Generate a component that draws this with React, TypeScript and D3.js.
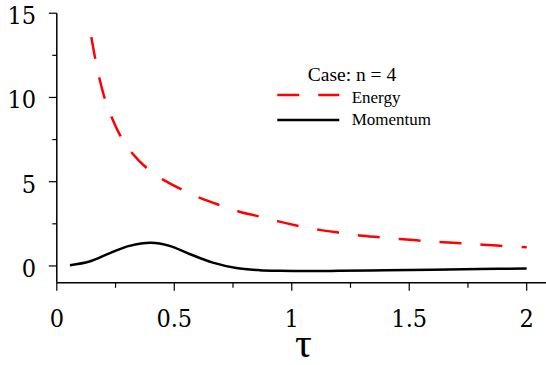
import React from 'react'
import * as d3 from 'd3'

// values
const energyTau = [0.147, 0.164, 0.181, 0.205, 0.234, 0.274, 0.321, 0.387, 0.454, 0.536, 0.612, 0.700, 0.778, 0.863, 0.948, 1.034, 1.119, 1.204, 1.289, 1.374, 1.474, 1.559, 1.644, 1.730, 1.815, 1.908, 2.0]
const energy = [13.58, 12.27, 11.15, 9.90, 8.81, 7.64, 6.69, 5.76, 5.11, 4.51, 4.02, 3.58, 3.22, 2.93, 2.63, 2.36, 2.14, 1.97, 1.81, 1.70, 1.58, 1.49, 1.41, 1.34, 1.26, 1.18, 1.11]

const momentumTau = [0.056, 0.139, 0.224, 0.309, 0.401, 0.480, 0.565, 0.664, 0.764, 0.863, 0.95, 1.034, 1.2, 1.4, 1.6, 1.8, 2.0]
const momentum = [0.04, 0.26, 0.75, 1.19, 1.38, 1.19, 0.71, 0.20, -0.12, -0.25, -0.29, -0.30, -0.29, -0.26, -0.22, -0.18, -0.15]

const xMajor = [0, 0.5, 1, 1.5, 2]
const xMinor = [0.25, 0.75, 1.25, 1.75]
const yMajor = [0, 5, 10, 15]
const yMinor = [2.5, 7.5, 12.5]

const legendTitle = 'Case: n = 4'
const seriesNames = ['Energy', 'Momentum']

const width = 546
const height = 365
const font = 'Liberation Serif, Times New Roman, serif'
// the digits need a face that surely has serifs
const tickFont = 'DejaVu Serif Condensed, DejaVu Serif, serif'

export default function App() {
  const x = d3.scaleLinear().domain([0, 2]).range([56.8, 526.7])
  const y = d3.scaleLinear().domain([-1, 15]).range([282.8, 13.2])
  const x0 = x(0)
  const xEnd = width

  const line = d3.line<[number, number]>()
    .x(d => x(d[0]))
    .y(d => y(d[1]))
    .curve(d3.curveCatmullRom.alpha(0.5))

  const energyPts = energyTau.map((t, i) => [t, energy[i]] as [number, number])
  const momentumPts = momentumTau.map((t, i) => [t, momentum[i]] as [number, number])

  return (
    <svg width={width} height={height} style={{ position: 'absolute', left: 0, top: 0, background: '#fff' }}>
      {/* axes */}
      <line x1={x0} x2={x0} y1={y(15)} y2={y(-1)} stroke="#000" strokeWidth={1.5} />
      <line x1={x0} x2={xEnd} y1={y(-1)} y2={y(-1)} stroke="#000" strokeWidth={1.5} />

      {yMajor.map(v => (
        <g key={'ym' + v}>
          <line x1={x0 - 8} x2={x0} y1={y(v)} y2={y(v)} stroke="#000" strokeWidth={1.2} />
          <text x={36} y={y(v) + 11} textAnchor="end" fontFamily={tickFont} fontWeight={300} fontSize={25}>{v}</text>
        </g>
      ))}
      {yMinor.map(v => (
        <line key={'yn' + v} x1={x0 - 4.5} x2={x0} y1={y(v)} y2={y(v)} stroke="#000" strokeWidth={1.2} />
      ))}

      {xMajor.map(v => (
        <g key={'xm' + v}>
          <line x1={x(v)} x2={x(v)} y1={y(-1)} y2={y(-1) + 8} stroke="#000" strokeWidth={1.2} />
          <text x={x(v)} y={327} textAnchor="middle" fontFamily={tickFont} fontWeight={300} fontSize={25}>{v}</text>
        </g>
      ))}
      {xMinor.map(v => (
        <line key={'xn' + v} x1={x(v)} x2={x(v)} y1={y(-1)} y2={y(-1) + 5} stroke="#000" strokeWidth={1.2} />
      ))}

      <text x={303.5} y={357} textAnchor="middle" fontFamily={font} fontSize={42}>τ</text>

      {/* series */}
      <path d={line(energyPts) || ''} fill="none" stroke="#ff0000" strokeWidth={2.5} strokeDasharray="22,19" />
      <path d={line(momentumPts) || ''} fill="none" stroke="#000" strokeWidth={2.5} />

      {/* legend */}
      <text x={352} y={81} textAnchor="middle" fontFamily={font} fontSize={19.5}>{legendTitle}</text>
      <line x1={277.3} x2={339.3} y1={95} y2={95} stroke="#ff0000" strokeWidth={2.5} strokeDasharray="22,19" />
      <text x={351.7} y={103} fontFamily={font} fontSize={17}>{seriesNames[0]}</text>
      <line x1={277.3} x2={339.3} y1={120} y2={120} stroke="#000" strokeWidth={2.5} />
      <text x={351.7} y={125.3} fontFamily={font} fontSize={17}>{seriesNames[1]}</text>
    </svg>
  )
}
